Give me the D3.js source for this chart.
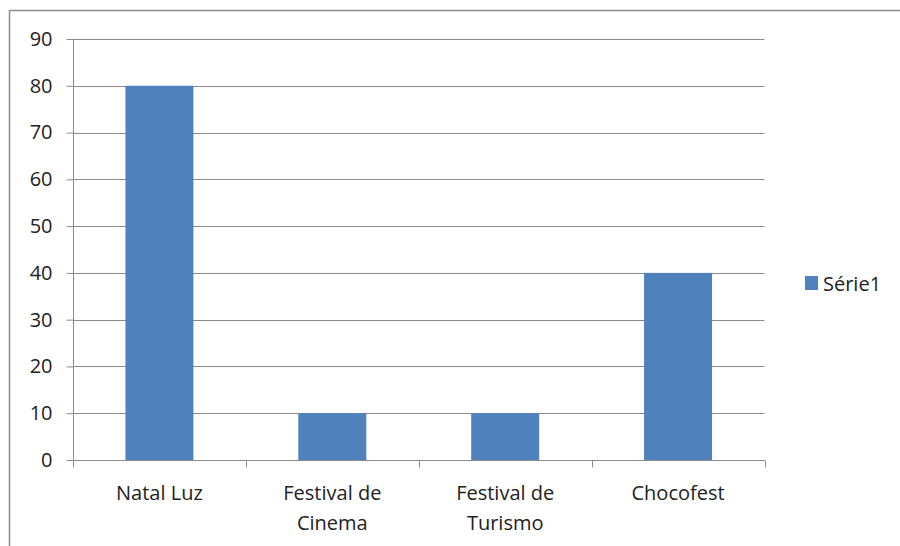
<!doctype html>
<html>
<head>
<meta charset="utf-8">
<style>
  body { margin: 0; background: #fff; }
  svg text { font-family: "Open Sans", "Noto Sans", sans-serif; fill: #222; }
</style>
<script src="https://d3js.org/d3.v7.min.js"></script>
</head>
<body>
<div id="chart"></div>
<script>
var categories = [["Natal Luz"], ["Festival de", "Cinema"], ["Festival de", "Turismo"], ["Chocofest"]];
var values = [80, 10, 10, 40];
var yTicks = [0, 10, 20, 30, 40, 50, 60, 70, 80, 90];
var seriesName = "Série1";

var width = 900, height = 546;
var svg = d3.select("#chart").append("svg").attr("width", width).attr("height", height);

// outer frame (runs off the right and bottom edges)
svg.append("rect").attr("x", 9.5).attr("y", 10.5).attr("width", 1000).attr("height", 1000)
  .attr("fill", "none").attr("stroke", "#8c8c8c").attr("stroke-width", 1.5);

var plotLeft = 73, plotRight = 764.5, plotTop = 39, plotBottom = 460;
var xb = d3.scaleBand().domain(d3.range(categories.length)).range([plotLeft, plotRight]);
var y = d3.scaleLinear().domain([0, 90]).range([plotBottom, plotTop]);
var fontSize = "20px";

// gridlines
svg.append("g").selectAll("line").data(yTicks.filter(function(d){ return d > 0; })).join("line")
  .attr("x1", plotLeft).attr("x2", plotRight)
  .attr("y1", function(d){ return Math.round(y(d)) + 0.5; }).attr("y2", function(d){ return Math.round(y(d)) + 0.5; })
  .attr("stroke", "#8a8a8a").attr("stroke-width", 1);

// bars
svg.append("g").selectAll("rect").data(values).join("rect")
  .attr("x", function(d, i){ return xb(i) + xb.bandwidth() / 2 - 34; })
  .attr("width", 68)
  .attr("y", function(d){ return y(d); })
  .attr("height", function(d){ return plotBottom - y(d); })
  .attr("fill", "#4f81bd");

// y axis
var yAxis = svg.append("g").attr("transform", "translate(" + (plotLeft + 0.5) + ",0)")
  .call(d3.axisLeft(y).tickValues(yTicks).tickSize(7).tickPadding(14));
yAxis.select(".domain").attr("stroke", "#8a8a8a").attr("d", "M0," + plotTop + "V" + (plotBottom + 0.5));
yAxis.selectAll(".tick line").attr("stroke", "#8a8a8a");
yAxis.selectAll(".tick text").style("font-size", fontSize).style("font-family", "Open Sans").style("fill", "#222");

// x axis
var xAxisG = svg.append("g").attr("transform", "translate(0," + (plotBottom + 0.5) + ")");
xAxisG.append("line").attr("x1", plotLeft).attr("x2", plotRight + 0.5).attr("stroke", "#8a8a8a");
xAxisG.selectAll(".xt").data(d3.range(categories.length + 1)).join("line")
  .attr("class", "xt")
  .attr("x1", function(i){ return Math.round(plotLeft + i * xb.bandwidth()) + 0.5; })
  .attr("x2", function(i){ return Math.round(plotLeft + i * xb.bandwidth()) + 0.5; })
  .attr("y1", 0).attr("y2", 7).attr("stroke", "#8a8a8a");

var labels = svg.append("g").selectAll("text").data(categories).join("text")
  .attr("text-anchor", "middle")
  .style("font-size", fontSize)
  .attr("transform", function(d, i){ return "translate(" + (xb(i) + xb.bandwidth() / 2) + ",500)"; });
labels.selectAll("tspan").data(function(d){ return d; }).join("tspan")
  .attr("x", 0).attr("y", function(d, j){ return j * 30; })
  .text(function(d){ return d; });

// legend
var legend = svg.append("g").attr("transform", "translate(805,276)");
legend.append("rect").attr("width", 13).attr("height", 14).attr("fill", "#4f81bd");
legend.append("text").attr("x", 18).attr("y", 15).style("font-size", fontSize).text(seriesName);
</script>
</body>
</html>
